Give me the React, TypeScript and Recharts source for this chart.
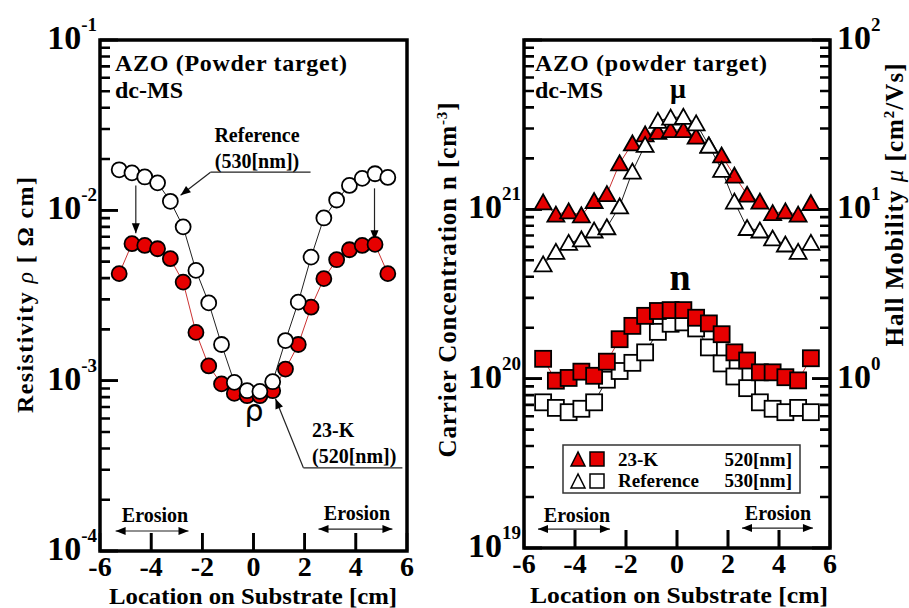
import React from "react";
import { LineChart, Line, XAxis, YAxis, ReferenceLine } from "recharts";

// location on substrate [cm]
const positions = [
  -5.25, -4.75, -4.25, -3.75, -3.25, -2.75, -2.25, -1.75, -1.25, -0.75, -0.25,
  0.25, 0.75, 1.25, 1.75, 2.25, 2.75, 3.25, 3.75, 4.25, 4.75, 5.25,
];

// resistivity [ohm cm]
const rhoReference = [
  0.0173, 0.0166, 0.0157, 0.0145, 0.0113, 0.008, 0.00444, 0.00286, 0.00163, 0.000977, 0.000873,
  0.000865, 0.000986, 0.00172, 0.00289, 0.00531, 0.00902, 0.0115, 0.014, 0.0154, 0.0164, 0.0156,
];
const rho23K = [
  0.00425, 0.00637, 0.00622, 0.00595, 0.0052, 0.00379, 0.00192, 0.00122, 0.000957, 0.000842, 0.000816,
  0.000816, 0.000873, 0.00117, 0.00163, 0.0027, 0.00397, 0.00513, 0.00587, 0.00622, 0.00631, 0.00425,
];

// Hall mobility [cm2/Vs]
const mu23K = [
  11.0, 9.31, 9.73, 9.22, 11.2, 12.3, 18.7, 24.5, 27.7, 28.7, 29.4,
  29.4, 26.9, 23.8, 20.8, 15.8, 12.2, 11.1, 9.5, 9.73, 9.31, 10.9,
];
const muReference = [
  4.73, 5.61, 6.34, 6.64, 7.5, 7.84, 10.4, 16.7, 24.0, 33.3, 34.8,
  35.2, 32.2, 23.8, 17.1, 11.1, 7.76, 7.5, 6.73, 6.2, 5.61, 6.34,
];

// carrier concentration [cm-3]
const n23K = [
  1.31e20, 9.73e19, 1.01e20, 1.1e20, 1.04e20, 1.26e20, 1.71e20, 2.05e20, 2.35e20, 2.51e20, 2.54e20,
  2.54e20, 2.29e20, 2.12e20, 1.83e20, 1.43e20, 1.28e20, 1.09e20, 1.09e20, 1.02e20, 9.77e19, 1.32e20,
];
const nReference = [
  7.25e19, 6.72e19, 6.34e19, 6.64e19, 7.25e19, 9.86e19, 1.11e20, 1.24e20, 1.43e20, 1.89e20, 2.11e20,
  2.15e20, 1.98e20, 1.53e20, 1.23e20, 1.03e20, 8.79e19, 7.25e19, 6.64e19, 6.34e19, 6.72e19, 6.34e19,
];

const xTicks = [-6, -4, -2, 0, 2, 4, 6];
const rhoDecades = [-4, -3, -2, -1];
const nDecades = [19, 20, 21, 22];
const muDecades = [-1, 0, 1, 2];

const SERIF = '"Liberation Serif", "Times New Roman", serif';
const RED = "#e60000";

const majorTicks = (decades: number[]) => decades.map((d) => 10 ** d);
const logTicks = (decades: number[]) => {
  const out: number[] = [];
  decades.forEach((d, i) => {
    out.push(10 ** d);
    if (i < decades.length - 1) for (let m = 2; m <= 9; m++) out.push(m * 10 ** d);
  });
  return out;
};
const isMajor = (v: number) => {
  const e = Math.log10(v);
  return Math.abs(e - Math.round(e)) < 1e-9;
};

const leftData = positions.map((x, i) => ({ x, ref: rhoReference[i], k23: rho23K[i] }));
const rightData = positions.map((x, i) => ({
  x,
  muRef: muReference[i],
  mu23: mu23K[i],
  nRef: nReference[i],
  n23: n23K[i],
}));

const XTickLabel = (p: any) => {
  const { x, y, payload, labelDy } = p;
  return (
    <text x={x} y={y + labelDy} textAnchor="middle" fontFamily={SERIF} fontWeight="bold" fontSize={28}>
      {payload.value}
    </text>
  );
};

const YTickLabel = (p: any) => {
  const { x, y, payload, side, hidden } = p;
  const e = Math.round(Math.log10(payload.value));
  if ((hidden || []).includes(e)) return <g />;
  return (
    <text
      x={side === "left" ? x - 3 : x + 7}
      y={y + 9}
      textAnchor={side === "left" ? "end" : "start"}
      fontFamily={SERIF}
      fontWeight="bold"
      fontSize={34}
    >
      10
      <tspan dy={-18} fontSize={19}>
        {e}
      </tspan>
    </text>
  );
};

type LogSide = { domain: [number, number]; ticks: number[] };

// frame over the full domain, with inward major/minor tick marks drawn as one path
const frameShape =
  (cfg: { xDomain: [number, number]; xTicks: number[]; left: LogSide; right?: LogSide }) => (p: any) => {
    const { x1, y1, x2, y2 } = p;
    const left = Math.min(x1, x2);
    const right = Math.max(x1, x2);
    const top = Math.min(y1, y2);
    const bottom = Math.max(y1, y2);
    const yPos = (v: number, dom: [number, number]) =>
      bottom - ((Math.log10(v) - Math.log10(dom[0])) / (Math.log10(dom[1]) - Math.log10(dom[0]))) * (bottom - top);
    const xPos = (v: number) => left + ((v - cfg.xDomain[0]) / (cfg.xDomain[1] - cfg.xDomain[0])) * (right - left);
    let d = "";
    cfg.left.ticks.forEach((v) => {
      const y = yPos(v, cfg.left.domain).toFixed(2);
      d += `M${left.toFixed(2)},${y}L${(left + (isMajor(v) ? 18 : 10)).toFixed(2)},${y}`;
    });
    if (cfg.right) {
      const r = cfg.right;
      r.ticks.forEach((v) => {
        const y = yPos(v, r.domain).toFixed(2);
        d += `M${right.toFixed(2)},${y}L${(right - (isMajor(v) ? 18 : 10)).toFixed(2)},${y}`;
      });
    }
    cfg.xTicks.forEach((v) => {
      const x = xPos(v).toFixed(2);
      d += `M${x},${bottom.toFixed(2)}L${x},${(bottom - 18).toFixed(2)}`;
    });
    return (
      <g>
        <path d={d} fill="none" stroke="#000" strokeWidth={2.6} />
        <rect x={left} y={top} width={right - left} height={bottom - top} fill="none" stroke="#000" strokeWidth={3.5} />
      </g>
    );
  };

const arrowShape = (heads: "none" | "end" | "both") => (p: any) => {
  const { x1, y1, x2, y2 } = p;
  const a = Math.atan2(y2 - y1, x2 - x1);
  const L = 10;
  const W = 4;
  const head = (x: number, y: number, ang: number) => {
    const bx = x - L * Math.cos(ang);
    const by = y - L * Math.sin(ang);
    return `${x},${y} ${bx + W * Math.sin(ang)},${by - W * Math.cos(ang)} ${bx - W * Math.sin(ang)},${by + W * Math.cos(ang)}`;
  };
  return (
    <g>
      <line x1={x1} y1={y1} x2={x2} y2={y2} stroke="#222" strokeWidth={1.2} />
      {heads !== "none" && <polygon points={head(x2, y2, a)} fill="#000" />}
      {heads === "both" && <polygon points={head(x1, y1, a + Math.PI)} fill="#000" />}
    </g>
  );
};

const circleDot = (fill: string) => (p: any) => (
  <circle key={p.index} cx={p.cx} cy={p.cy} r={7.5} fill={fill} stroke="#000" strokeWidth={1.8} />
);
const triangleDot = (fill: string) => (p: any) => (
  <polygon
    key={p.index}
    points={`${p.cx},${p.cy - 8} ${p.cx - 8.5},${p.cy + 7} ${p.cx + 8.5},${p.cy + 7}`}
    fill={fill}
    stroke="#000"
    strokeWidth={1.8}
  />
);
const squareDot = (fill: string) => (p: any) => (
  <rect key={p.index} x={p.cx - 8} y={p.cy - 8} width={16} height={16} fill={fill} stroke="#000" strokeWidth={1.8} />
);

const txt = { fontFamily: SERIF, fontWeight: "bold" as const };
const tickLineStyle = { stroke: "#000", strokeWidth: 2.6 };

const leftFrame = frameShape({
  xDomain: [-6, 6],
  xTicks: xTicks.filter((v) => Math.abs(v) < 6),
  left: { domain: [1e-4, 1e-1], ticks: logTicks(rhoDecades) },
});
const rightFrame = frameShape({
  xDomain: [-6, 6],
  xTicks: xTicks.filter((v) => Math.abs(v) < 6),
  left: { domain: [1e19, 1e22], ticks: logTicks(nDecades) },
  right: { domain: [0.1, 100], ticks: logTicks(muDecades) },
});

export default function App() {
  return (
    <div style={{ position: "absolute", left: 0, top: 0, width: 909, height: 608, background: "#fff" }}>
      <svg width={909} height={608} style={{ position: "absolute", left: 0, top: 0 }}>
        {/* left panel */}
        <text x={115} y={71} fontSize={24} textLength={232} {...txt}>AZO (Powder target)</text>
        <text x={115} y={98} fontSize={24} {...txt}>dc-MS</text>
        <text x={257} y={142} fontSize={20} textAnchor="middle" {...txt}>Reference</text>
        <text x={257} y={168} fontSize={20} textAnchor="middle" {...txt}>(530[nm])</text>
        <text x={254} y={421} fontSize={30} textAnchor="middle" fontFamily='"DejaVu Sans", sans-serif'>ρ</text>
        <text x={312} y={437} fontSize={20} {...txt}>23-K</text>
        <text x={312} y={463} fontSize={20} {...txt}>(520[nm])</text>
        <text x={155} y={522} fontSize={20} textAnchor="middle" {...txt}>Erosion</text>
        <text x={357} y={520} fontSize={20} textAnchor="middle" {...txt}>Erosion</text>
        <text x={253} y={604} fontSize={23} textAnchor="middle" textLength={288} lengthAdjust="spacingAndGlyphs" {...txt}>
          Location on Substrate [cm]
        </text>
        <text transform="translate(33,295) rotate(-90)" fontSize={24} textAnchor="middle" textLength={236} {...txt}>
          Resistivity <tspan fontStyle="italic" fontWeight="normal">ρ</tspan>  [ Ω cm]
        </text>

        {/* right panel */}
        <text x={535} y={71} fontSize={24} textLength={232} {...txt}>AZO (powder target)</text>
        <text x={535} y={98} fontSize={24} {...txt}>dc-MS</text>
        <text x={678} y={98} fontSize={28} textAnchor="middle" {...txt}>μ</text>
        <text x={680} y={290} fontSize={38} textAnchor="middle" {...txt}>n</text>
        <text x={577} y={522} fontSize={20} textAnchor="middle" {...txt}>Erosion</text>
        <text x={778} y={520} fontSize={20} textAnchor="middle" {...txt}>Erosion</text>
        <text x={679} y={603} fontSize={23} textAnchor="middle" textLength={298} lengthAdjust="spacingAndGlyphs" {...txt}>
          Location on Substrate [cm]
        </text>
        <text transform="translate(456,280) rotate(-90)" fontSize={25} textAnchor="middle" textLength={355} {...txt}>
          Carrier Concentration  n [cm<tspan dy={-9} fontSize={15}>-3</tspan><tspan dy={9}>]</tspan>
        </text>
        <text transform="translate(903,205) rotate(-90)" fontSize={25} textAnchor="middle" textLength={283} {...txt}>
          Hall Mobility <tspan fontStyle="italic" fontWeight="normal">μ</tspan>  [cm<tspan dy={-9} fontSize={15}>2</tspan><tspan dy={9}>/Vs]</tspan>
        </text>

        {/* legend */}
        <rect x={563} y={445} width={237} height={48} fill="none" stroke="#333" strokeWidth={1.5} />
        <polygon points="578,452 571,466 585,466" fill={RED} stroke="#000" strokeWidth={1.5} />
        <rect x={590} y={452} width={14} height={14} fill={RED} stroke="#000" strokeWidth={1.5} />
        <polygon points="578,474 571,488 585,488" fill="#fff" stroke="#000" strokeWidth={1.5} />
        <rect x={590} y={474} width={14} height={14} fill="#fff" stroke="#000" strokeWidth={1.5} />
        <text x={618} y={466} fontSize={19} {...txt}>23-K</text>
        <text x={792} y={466} fontSize={19} textAnchor="end" {...txt}>520[nm]</text>
        <text x={618} y={487} fontSize={19} {...txt}>Reference</text>
        <text x={792} y={487} fontSize={19} textAnchor="end" {...txt}>530[nm]</text>
      </svg>

      <div style={{ position: "absolute", left: 0, top: 0 }}>
        <LineChart width={440} height={608} data={leftData} margin={{ top: 40, right: 33, bottom: 0, left: 0 }}>
          <XAxis
            dataKey="x"
            type="number"
            domain={[-6, 6]}
            ticks={xTicks}
            interval={0}
            allowDataOverflow
            height={57}
            axisLine={false}
            tickLine={tickLineStyle}
            tickSize={-18}
            tickMargin={18}
            tick={(p: any) => <XTickLabel {...p} labelDy={25} />}
          />
          <YAxis
            yAxisId="rho"
            scale="log"
            type="number"
            domain={[1e-4, 1e-1]}
            ticks={majorTicks(rhoDecades)}
            interval={0}
            allowDataOverflow
            width={100}
            axisLine={false}
            tickLine={tickLineStyle}
            tickSize={-18}
            tickMargin={18}
            tick={(p: any) => <YTickLabel {...p} side="left" />}
          />
          <Line yAxisId="rho" dataKey="k23" stroke="#cc3333" strokeWidth={1} dot={circleDot(RED)} isAnimationActive={false} />
          <Line yAxisId="rho" dataKey="ref" stroke="#222" strokeWidth={1} dot={circleDot("#fff")} isAnimationActive={false} />
          <ReferenceLine yAxisId="rho" segment={[{ x: -6, y: 1e-4 }, { x: 6, y: 1e-1 }]} shape={leftFrame} />
          <ReferenceLine yAxisId="rho" segment={[{ x: -1.68, y: 0.01675 }, { x: 2.23, y: 0.01675 }]} shape={arrowShape("none")} />
          <ReferenceLine yAxisId="rho" segment={[{ x: -1.68, y: 0.01675 }, { x: -2.85, y: 0.01225 }]} shape={arrowShape("end")} />
          <ReferenceLine yAxisId="rho" segment={[{ x: -4.6, y: 0.014 }, { x: -4.6, y: 0.00733 }]} shape={arrowShape("end")} />
          <ReferenceLine yAxisId="rho" segment={[{ x: 4.73, y: 0.01346 }, { x: 4.73, y: 0.00667 }]} shape={arrowShape("end")} />
          <ReferenceLine yAxisId="rho" segment={[{ x: 5.82, y: 0.000308 }, { x: 1.95, y: 0.000308 }]} shape={arrowShape("none")} />
          <ReferenceLine yAxisId="rho" segment={[{ x: 1.95, y: 0.000308 }, { x: 0.86, y: 0.000783 }]} shape={arrowShape("end")} />
          <ReferenceLine yAxisId="rho" segment={[{ x: -5.39, y: 1.31e-4 }, { x: -2.54, y: 1.31e-4 }]} shape={arrowShape("both")} />
          <ReferenceLine yAxisId="rho" segment={[{ x: 2.54, y: 1.345e-4 }, { x: 5.43, y: 1.345e-4 }]} shape={arrowShape("both")} />
        </LineChart>
      </div>

      <div style={{ position: "absolute", left: 430, top: 0 }}>
        <LineChart width={479} height={608} data={rightData} margin={{ top: 40, right: 0, bottom: 0, left: 0 }}>
          <XAxis
            dataKey="x"
            type="number"
            domain={[-6, 6]}
            ticks={xTicks}
            interval={0}
            allowDataOverflow
            height={60}
            axisLine={false}
            tickLine={tickLineStyle}
            tickSize={-18}
            tickMargin={18}
            tick={(p: any) => <XTickLabel {...p} labelDy={25} />}
          />
          <YAxis
            yAxisId="n"
            scale="log"
            type="number"
            domain={[1e19, 1e22]}
            ticks={majorTicks(nDecades)}
            interval={0}
            allowDataOverflow
            width={94}
            axisLine={false}
            tickLine={tickLineStyle}
            tickSize={-18}
            tickMargin={18}
            tick={(p: any) => <YTickLabel {...p} side="left" hidden={[22]} />}
          />
          <YAxis
            yAxisId="mu"
            orientation="right"
            scale="log"
            type="number"
            domain={[0.1, 100]}
            ticks={majorTicks(muDecades)}
            interval={0}
            allowDataOverflow
            width={79}
            axisLine={false}
            tickLine={tickLineStyle}
            tickSize={-18}
            tickMargin={18}
            tick={(p: any) => <YTickLabel {...p} side="right" hidden={[-1]} />}
          />
          <Line yAxisId="mu" dataKey="mu23" stroke="#cc3333" strokeWidth={1} dot={triangleDot(RED)} isAnimationActive={false} />
          <Line yAxisId="mu" dataKey="muRef" stroke="#222" strokeWidth={1} dot={triangleDot("#fff")} isAnimationActive={false} />
          <Line yAxisId="n" dataKey="nRef" stroke="#222" strokeWidth={1} dot={squareDot("#fff")} isAnimationActive={false} />
          <Line yAxisId="n" dataKey="n23" stroke="#cc3333" strokeWidth={1} dot={squareDot(RED)} isAnimationActive={false} />
          <ReferenceLine yAxisId="n" segment={[{ x: -6, y: 1e19 }, { x: 6, y: 1e22 }]} shape={rightFrame} />
          <ReferenceLine yAxisId="n" segment={[{ x: -5.45, y: 1.294e19 }, { x: -2.63, y: 1.294e19 }]} shape={arrowShape("both")} />
          <ReferenceLine yAxisId="n" segment={[{ x: 2.55, y: 1.312e19 }, { x: 5.33, y: 1.312e19 }]} shape={arrowShape("both")} />
        </LineChart>
      </div>
    </div>
  );
}
